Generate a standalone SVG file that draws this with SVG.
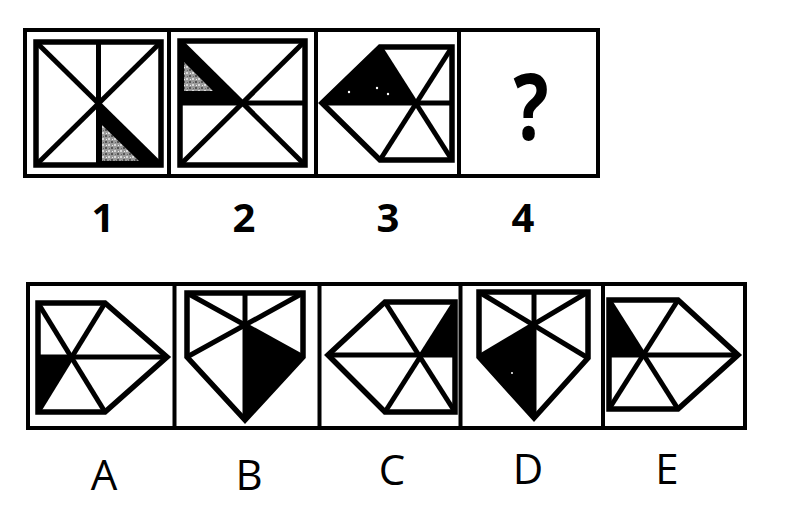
<svg xmlns="http://www.w3.org/2000/svg" width="798" height="505" viewBox="0 0 798 505">
<style>
.frame{fill:none;stroke:#000;stroke-width:4}
.sep{stroke:#000;stroke-width:4}
.fig{fill:none;stroke:#000;stroke-width:5.5;stroke-linejoin:miter}
.ln{stroke:#000;stroke-width:5;stroke-linecap:butt}
.blk{fill:#000}
.num{font-family:"Open Sans","Liberation Sans",sans-serif;font-weight:700;font-size:40px;text-anchor:middle;fill:#000}
.let{font-family:"Open Sans","Liberation Sans",sans-serif;font-weight:500;font-size:42px;text-anchor:middle;fill:#000}
</style>
<defs>
<pattern id="speck" width="6" height="6" patternUnits="userSpaceOnUse">
<rect width="6" height="6" fill="#9a9a9a"/>
<rect x="0" y="0" width="2" height="2" fill="#d8d8d8"/>
<rect x="3" y="3" width="2" height="2" fill="#555"/>
<rect x="4" y="1" width="1" height="1" fill="#eee"/>
<rect x="1" y="4" width="1" height="1" fill="#666"/>
</pattern>
</defs>
<rect width="798" height="505" fill="#fff"/>

<g id="top-frame">
<rect class="frame" x="25" y="30" width="573" height="146"/>
<line class="sep" x1="169" y1="30" x2="169" y2="176"/>
<line class="sep" x1="316" y1="30" x2="316" y2="176"/>
<line class="sep" x1="459" y1="30" x2="459" y2="176"/>
</g>

<g id="fig1">
<polygon class="blk" points="98.5,103.5 98.5,165 161,165"/>
<polygon fill="url(#speck)" points="102,125 102,161 139,161"/>
<rect class="fig" x="36" y="42" width="125" height="123"/>
<line class="ln" x1="36" y1="42" x2="161" y2="165"/>
<line class="ln" x1="161" y1="42" x2="36" y2="165"/>
<line class="ln" x1="98.5" y1="42" x2="98.5" y2="165"/>
</g>

<g id="fig2">
<polygon class="blk" points="180,41 242.5,103 180,103"/>
<polygon fill="url(#speck)" points="184,62 213,91 184,91"/>
<rect class="fig" x="180" y="41" width="125" height="124"/>
<line class="ln" x1="180" y1="41" x2="305" y2="165"/>
<line class="ln" x1="305" y1="41" x2="180" y2="165"/>
<line class="ln" x1="180" y1="103" x2="305" y2="103"/>
</g>

<g id="fig3">
<polygon class="blk" points="322,103 380,47 416,103"/>
<circle cx="349" cy="92" r="1.2" fill="#fff"/>
<circle cx="377" cy="88" r="1.2" fill="#fff"/>
<circle cx="388" cy="94" r="1.2" fill="#fff"/>
<polygon class="fig" points="322,103 380,47 452,47 452,160 380,160"/>
<line class="ln" x1="380" y1="47" x2="452" y2="160"/>
<line class="ln" x1="452" y1="47" x2="380" y2="160"/>
<line class="ln" x1="322" y1="103" x2="452" y2="103"/>
</g>

<g id="fig4">
<text x="531" y="140" font-family="'Open Sans','Liberation Sans',sans-serif" font-weight="700" font-size="92" text-anchor="middle" transform="translate(531 0) scale(0.8 1) translate(-531 0)">?</text>
</g>

<g id="top-labels">
<text class="num" x="103" y="232">1</text>
<text class="num" x="244" y="232">2</text>
<text class="num" x="388" y="232">3</text>
<text class="num" x="523" y="232">4</text>
</g>

<g id="bottom-frame">
<rect class="frame" x="28" y="284" width="717" height="144"/>
<line class="sep" x1="174.5" y1="284" x2="174.5" y2="428"/>
<line class="sep" x1="319.5" y1="284" x2="319.5" y2="428"/>
<line class="sep" x1="460.5" y1="284" x2="460.5" y2="428"/>
<line class="sep" x1="603" y1="284" x2="603" y2="428"/>
</g>

<g id="optA">
<polygon class="blk" points="38,357 71.5,357 38,412"/>
<polygon class="fig" points="38,303 105,303 167,357 105,412 38,412"/>
<line class="ln" x1="38" y1="303" x2="105" y2="412"/>
<line class="ln" x1="105" y1="303" x2="38" y2="412"/>
<line class="ln" x1="38" y1="357" x2="167" y2="357"/>
</g>

<g id="optB">
<polygon class="blk" points="245,325 303,357 245,420"/>
<polygon class="fig" points="187,293 303,293 303,357 245,420 187,357"/>
<line class="ln" x1="187" y1="293" x2="303" y2="357"/>
<line class="ln" x1="303" y1="293" x2="187" y2="357"/>
<line class="ln" x1="245" y1="293" x2="245" y2="420"/>
</g>

<g id="optC">
<polygon class="blk" points="455,302 419,355 455,355"/>
<polygon class="fig" points="328,355 385,302 455,302 455,412 385,412"/>
<line class="ln" x1="385" y1="302" x2="455" y2="412"/>
<line class="ln" x1="455" y1="302" x2="385" y2="412"/>
<line class="ln" x1="328" y1="355" x2="455" y2="355"/>
</g>

<g id="optD">
<polygon class="blk" points="534,325 479,357 534,418"/>
<circle cx="512" cy="373" r="1" fill="#fff"/>
<polygon class="fig" points="479,292 588,292 588,358 534,418 479,357"/>
<line class="ln" x1="479" y1="292" x2="588" y2="358"/>
<line class="ln" x1="588" y1="292" x2="479" y2="357"/>
<line class="ln" x1="534" y1="292" x2="534" y2="418"/>
</g>

<g id="optE">
<polygon class="blk" points="609,300 643,355 609,355"/>
<polygon class="fig" points="609,300 678,300 738,355 678,409 609,409"/>
<line class="ln" x1="609" y1="300" x2="678" y2="409"/>
<line class="ln" x1="678" y1="300" x2="609" y2="409"/>
<line class="ln" x1="609" y1="355" x2="738" y2="355"/>
</g>

<g id="bottom-labels">
<text class="let" x="104" y="490">A</text>
<text class="let" x="249" y="490">B</text>
<text class="let" x="392" y="485">C</text>
<text class="let" x="528" y="484">D</text>
<text class="let" x="667" y="484">E</text>
</g>
</svg>
